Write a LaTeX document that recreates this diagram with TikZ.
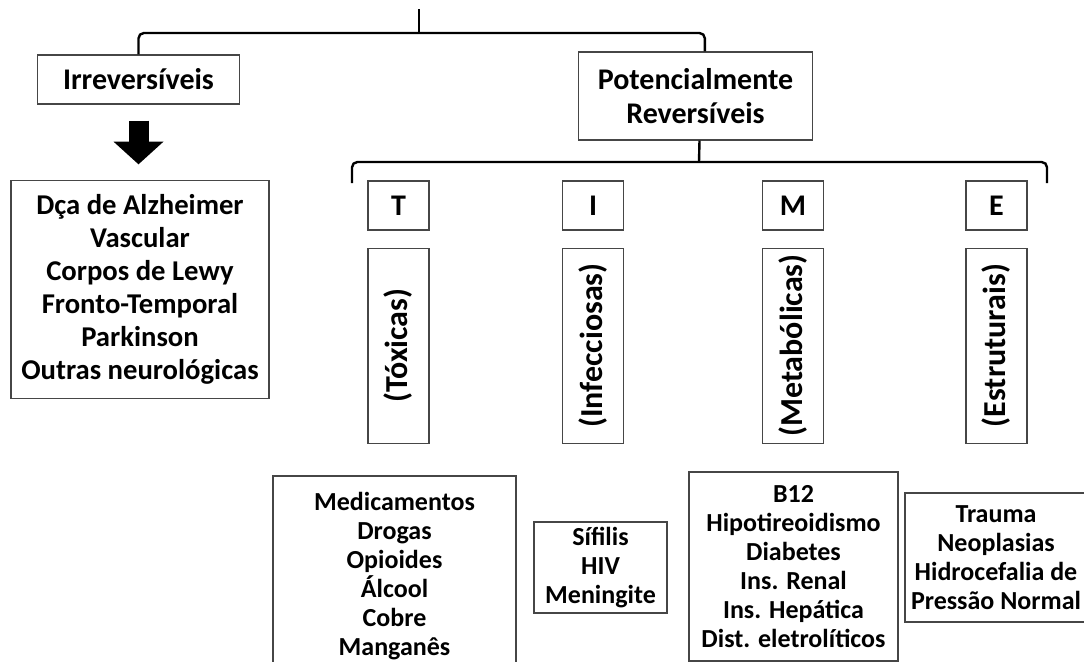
\documentclass[tikz,border=0pt]{standalone}
\usepackage{fontspec}
\setmainfont{Carlito}
\usepackage{tikz}
\usetikzlibrary{positioning,arrows.meta}
\definecolor{boxline}{RGB}{70,70,70}
\tikzset{
  catbox/.style    = {draw=boxline, line width=0.8pt, align=center, inner sep=0pt, font=\fontsize{22.5}{25.5}\selectfont\bfseries},
  letterbox/.style = {catbox, minimum width=45.75pt, minimum height=36.75pt},
  sidebox/.style   = {catbox, minimum width=45.75pt, minimum height=146.25pt, font=\fontsize{24}{24}\selectfont\bfseries},
  listbox/.style   = {draw=boxline, line width=0.8pt, align=center, inner sep=0pt, font=\fontsize{19.5}{21.75}\selectfont\bfseries},
  brace/.style     = {line width=1.8pt, rounded corners=4pt},
  bigarrow/.style  = {line width=15pt, -{Triangle[width=37.5pt,length=17pt,line width=0pt]}},
}

\begin{document}
\begin{tikzpicture}[x=0.75pt,y=-0.75pt]
  \useasboundingbox (0,0) rectangle (1084,661);
  \clip (0,0) rectangle (1084,661);

  % first split
  \node[catbox, minimum width=152pt, minimum height=36.75pt] (irr) at (138.5,79.5) {Irreversíveis};
  \node[catbox, minimum width=176pt, minimum height=66pt] (pot) at (695.5,96) {Potencialmente\\Reversíveis};
  \coordinate (top) at (419,9);
  \coordinate (topmid) at (419,33);
  \draw[brace] (irr.north) |- (topmid) -| ([xshift=7pt]pot.north);
  \draw[line width=1.8pt] (top) -- (topmid);

  % irreversible causes
  \node[listbox, minimum width=193.5pt, minimum height=163pt, font=\fontsize{21.5}{24.75}\selectfont\bfseries] (dca) at (140,289.5)
    {Dça de Alzheimer\\Vascular\\Corpos de Lewy\\Fronto-Temporal\\Parkinson\\Outras neurológicas};
  \draw[bigarrow] ([yshift=-12pt]irr.south) -- ([yshift=12pt]irr.south |- dca.north);

  % TIME
  \coordinate (lowmid) at (699,162);
  \coordinate (lowl) at (352,183);
  \coordinate (lowr) at (1047,183);
  \draw[line width=1.8pt] ([xshift=3pt]pot.south) -- (lowmid);
  \draw[brace] (lowl) |- (lowmid) -| (lowr);

  \node[letterbox] (t) at (398.5,205.5) {T};
  \node[letterbox] (i) at (593,205.5) {I};
  \node[letterbox] (m) at (793,205.5) {M};
  \node[letterbox] (e) at (996.5,205.5) {E};
  \node[sidebox, below=12.75pt of t] (tox) {\rotatebox{90}{(Tóxicas)}};
  \node[sidebox, below=12.75pt of i] (inf) {\rotatebox{90}{(Infecciosas)}};
  \node[sidebox, below=12.75pt of m] (met) {\rotatebox{90}{(Metabólicas)}};
  \node[sidebox, below=12.75pt of e] (est) {\rotatebox{90}{(Estruturais)}};

  % examples
  \node[listbox, minimum width=182.25pt, minimum height=150.75pt] (med) at (394.5,576.5)
    {Medicamentos\\Drogas\\Opioides\\Álcool\\Cobre\\Manganês};
  \node[listbox, minimum width=99.75pt, minimum height=68.25pt] (sif) at (600.5,567.5)
    {Sífilis\\HIV\\Meningite};
  \node[listbox, minimum width=156.75pt, minimum height=141.75pt] (b12) at (793.5,566.5)
    {B12\\Hipotireoidismo\\Diabetes\\Ins. Renal\\Ins. Hepática\\Dist. eletrolíticos};
  \node[listbox, minimum width=136.5pt, minimum height=96.75pt] (tra) at (996,557.5)
    {Trauma\\Neoplasias\\Hidrocefalia de\\Pressão Normal};
\end{tikzpicture}
\end{document}
